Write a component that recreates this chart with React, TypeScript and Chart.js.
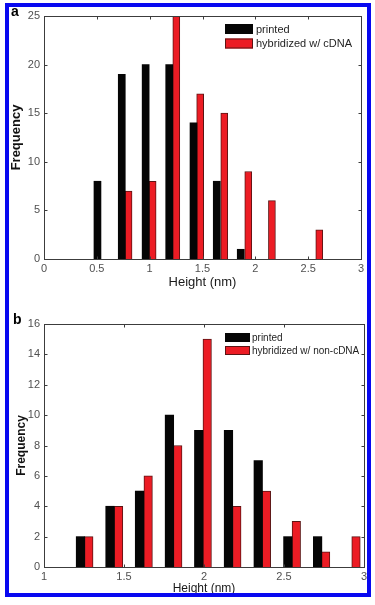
import React, { useEffect, useRef } from "react";
import { Chart, registerables } from "chart.js";

Chart.register(...registerables);

const FONT = "Arial, 'Liberation Sans', Helvetica, sans-serif";

// ---------- Panel a data ----------
const aPrintedX = [0.506, 0.736, 0.962, 1.185, 1.415, 1.635, 1.862];
const aPrintedFreq = [8, 19, 20, 20, 14, 8, 1];
const aHybX = [0.8, 1.028, 1.252, 1.478, 1.706, 1.933, 2.157, 2.605];
const aHybFreq = [7, 8, 25, 17, 15, 9, 6, 3];
const aXTicks = [0, 0.5, 1, 1.5, 2, 2.5, 3];
const aYTicks = [0, 5, 10, 15, 20, 25];
const aLabels = ["printed", "hybridized w/ cDNA"];

// ---------- Panel b data ----------
const bPrintedX = [1.228, 1.4125, 1.597, 1.784, 1.967, 2.153, 2.339, 2.524, 2.71];
const bPrintedFreq = [2, 4, 5, 10, 9, 9, 7, 2, 2];
const bHybX = [1.28, 1.466, 1.651, 1.836, 2.02, 2.205, 2.39, 2.577, 2.76, 2.95];
const bHybFreq = [2, 4, 6, 8, 15, 4, 5, 3, 1, 2];
const bXTicks = [1, 1.5, 2, 2.5, 3];
const bYTicks = [0, 2, 4, 6, 8, 10, 12, 14, 16];
const bLabels = ["printed", "hybridized w/ non-cDNA"];

const X_TITLE = "Height (nm)";
const Y_TITLE = "Frequency";

const BLACK = "#050505";
const RED = "#ec1c24";
const RED_EDGE = "#5c1414";

const framePlugin = {
  id: "matlabFrame",
  afterDatasetsDraw(chart: any) {
    const { ctx, chartArea, scales } = chart;
    const { left, right, top, bottom } = chartArea;
    const x = scales.x;
    const y = scales.y;
    ctx.save();
    ctx.strokeStyle = "#3c3c3c";
    ctx.lineWidth = 1;
    const l = Math.round(left) + 0.5;
    const r = Math.round(right) + 0.5;
    const t = Math.round(top) + 0.5;
    const b = Math.round(bottom) + 0.5;
    ctx.strokeRect(l, t, r - l, b - t);
    const L = 3;
    ctx.beginPath();
    x.ticks.forEach((tk: any) => {
      const px = Math.round(x.getPixelForValue(tk.value)) + 0.5;
      ctx.moveTo(px, b);
      ctx.lineTo(px, b - L);
      ctx.moveTo(px, t);
      ctx.lineTo(px, t + L);
    });
    y.ticks.forEach((tk: any) => {
      const py = Math.round(y.getPixelForValue(tk.value)) + 0.5;
      ctx.moveTo(l, py);
      ctx.lineTo(l + L, py);
      ctx.moveTo(r, py);
      ctx.lineTo(r - L, py);
    });
    ctx.stroke();
    ctx.restore();
  },
};

const boxLegendPlugin = {
  id: "boxLegend",
  afterDraw(chart: any, _args: any, opts: any) {
    const { ctx, chartArea } = chart;
    const x0 = chartArea.right - opts.fromRight;
    let y0 = chartArea.top + opts.fromTop;
    ctx.save();
    ctx.font = `${opts.fontSize}px ${FONT}`;
    ctx.textBaseline = "middle";
    ctx.textAlign = "left";
    chart.data.datasets.forEach((ds: any) => {
      ctx.fillStyle = ds.backgroundColor;
      ctx.fillRect(x0, y0, opts.boxW, opts.boxH);
      ctx.strokeStyle = ds.borderColor;
      ctx.lineWidth = 1;
      ctx.strokeRect(x0 + 0.5, y0 + 0.5, opts.boxW - 1, opts.boxH - 1);
      ctx.fillStyle = "#1e1e1e";
      ctx.fillText(ds.label, x0 + opts.boxW + opts.gap, y0 + opts.boxH / 2 + 0.5);
      y0 += opts.rowH;
    });
    ctx.restore();
  },
};

type PanelParams = {
  printedX: number[];
  printedFreq: number[];
  hybX: number[];
  hybFreq: number[];
  xTicks: number[];
  yTicks: number[];
  labels: string[];
  padding: { top: number; right: number; left: number; bottom: number };
  yWidth: number;
  xHeight: number;
  tickFont: number;
  titleFont: number;
  xTitlePad: number;
  yTitlePad: number;
  barThickness: number;
  legend: any;
};

function makeConfig(p: PanelParams): any {
  const pts = (xs: number[], ys: number[]) => xs.map((x, i) => ({ x, y: ys[i] }));
  return {
    type: "bar",
    data: {
      datasets: [
        {
          label: p.labels[0],
          data: pts(p.printedX, p.printedFreq),
          backgroundColor: BLACK,
          borderColor: BLACK,
          borderWidth: 0,
          barThickness: p.barThickness,
          grouped: false,
        },
        {
          label: p.labels[1],
          data: pts(p.hybX, p.hybFreq),
          backgroundColor: RED,
          borderColor: RED_EDGE,
          borderWidth: 1,
          barThickness: p.barThickness,
          grouped: false,
        },
      ],
    },
    options: {
      responsive: false,
      animation: false,
      layout: { padding: p.padding },
      plugins: {
        legend: { display: false },
        tooltip: { enabled: false },
        boxLegend: p.legend,
      },
      scales: {
        x: {
          type: "linear",
          offset: false,
          min: p.xTicks[0],
          max: p.xTicks[p.xTicks.length - 1],
          grid: { display: false, drawTicks: false },
          border: { display: false },
          afterBuildTicks: (s: any) => {
            s.ticks = p.xTicks.map((v) => ({ value: v }));
          },
          afterFit: (s: any) => {
            s.height = p.xHeight;
          },
          ticks: {
            autoSkip: false,
            maxRotation: 0,
            padding: 3,
            color: "#505050",
            font: { size: p.tickFont, family: FONT },
            callback: (v: any) => String(v),
          },
          title: {
            display: true,
            text: X_TITLE,
            color: "#1a1a1a",
            font: { size: p.titleFont, family: FONT },
            padding: { top: 0, bottom: p.xTitlePad },
          },
        },
        y: {
          type: "linear",
          min: p.yTicks[0],
          max: p.yTicks[p.yTicks.length - 1],
          grid: { display: false, drawTicks: false },
          border: { display: false },
          afterBuildTicks: (s: any) => {
            s.ticks = p.yTicks.map((v) => ({ value: v }));
          },
          afterFit: (s: any) => {
            s.width = p.yWidth;
          },
          ticks: {
            autoSkip: false,
            padding: 4,
            color: "#505050",
            font: { size: p.tickFont, family: FONT },
            callback: (v: any) => String(v),
          },
          title: {
            display: true,
            text: Y_TITLE,
            color: "#111",
            font: { size: p.titleFont, family: FONT, weight: "bold" },
            padding: { top: p.yTitlePad, bottom: 0 },
          },
        },
      },
    },
    plugins: [framePlugin, boxLegendPlugin],
  };
}

const panelA: PanelParams = {
  printedX: aPrintedX,
  printedFreq: aPrintedFreq,
  hybX: aHybX,
  hybFreq: aHybFreq,
  xTicks: aXTicks,
  yTicks: aYTicks,
  labels: aLabels,
  padding: { top: 16, right: 14, left: 0, bottom: 0 },
  yWidth: 44,
  xHeight: 41,
  tickFont: 11,
  titleFont: 13,
  xTitlePad: 9.7,
  yTitlePad: 9,
  barThickness: 7,
  legend: { fromRight: 136, fromTop: 8, boxW: 28, boxH: 10, gap: 3, rowH: 14.5, fontSize: 11 },
};

const panelB: PanelParams = {
  printedX: bPrintedX,
  printedFreq: bPrintedFreq,
  hybX: bHybX,
  hybFreq: bHybFreq,
  xTicks: bXTicks,
  yTicks: bYTicks,
  labels: bLabels,
  padding: { top: 24, right: 11, left: 0, bottom: 0 },
  yWidth: 44,
  xHeight: 38,
  tickFont: 11,
  titleFont: 12,
  xTitlePad: 9.3,
  yTitlePad: 14,
  barThickness: 8.5,
  legend: { fromRight: 139, fromTop: 9, boxW: 25, boxH: 9, gap: 2, rowH: 13, fontSize: 10 },
};

function Panel({ params, top, height }: { params: PanelParams; top: number; height: number }) {
  const ref = useRef<HTMLCanvasElement>(null);
  useEffect(() => {
    const chart = new Chart(ref.current as HTMLCanvasElement, makeConfig(params));
    return () => chart.destroy();
  }, [params]);
  return (
    <canvas
      ref={ref}
      width={375}
      height={height}
      style={{ position: "absolute", left: 0, top, width: 375, height, display: "block" }}
    />
  );
}

export default function App() {
  const letter: React.CSSProperties = {
    position: "absolute",
    fontFamily: FONT,
    fontWeight: "bold",
    fontSize: 14,
    lineHeight: "16px",
    color: "#000",
  };
  return (
    <div
      style={{
        position: "absolute",
        left: 0,
        top: 0,
        width: 375,
        height: 605,
        background: "#fff",
        overflow: "hidden",
      }}
    >
      <Panel params={panelA} top={0} height={300} />
      <Panel params={panelB} top={300} height={305} />
      <div style={{ ...letter, left: 11, top: 3 }}>a</div>
      <div style={{ ...letter, left: 13, top: 311 }}>b</div>
      <div
        style={{
          position: "absolute",
          left: 5,
          top: 3,
          width: 358,
          height: 586,
          border: "4px solid #0808f0",
          pointerEvents: "none",
        }}
      />
    </div>
  );
}
